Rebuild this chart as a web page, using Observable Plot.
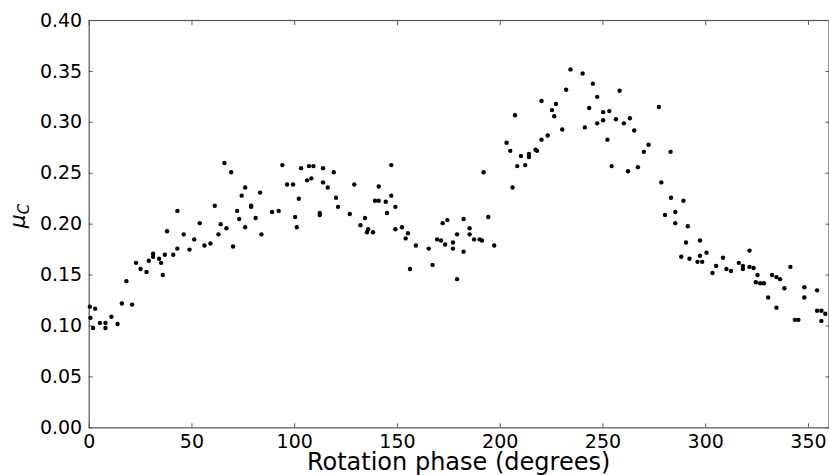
<!DOCTYPE html>
<html><head><meta charset="utf-8">
<script src="https://cdn.jsdelivr.net/npm/d3@7"></script>
<script src="https://cdn.jsdelivr.net/npm/@observablehq/plot@0.6"></script>
<style>body{margin:0;background:#fff} svg{display:block}</style>
</head><body><div id="chart"></div>
<script>
const phase = [0.3,0.6,1.9,2.9,5.2,7.9,7.9,10.8,13.8,15.9,18.1,20.9,22.8,25.0,27.9,29.0,31.1,31.1,34.0,35.0,35.8,36.8,37.9,40.9,42.9,42.9,46.0,48.8,51.1,53.8,56.1,59.0,61.1,62.9,64.0,65.8,66.8,69.1,70.0,72.0,73.0,74.2,75.9,75.9,78.8,78.8,81.0,83.2,83.8,89.0,92.2,94.0,96.3,99.2,100.2,101.0,102.0,103.1,106.0,107.0,108.1,109.1,112.2,112.2,113.8,113.8,116.1,119.0,120.1,121.1,126.8,129.0,132.0,134.2,135.2,135.8,138.1,139.1,140.9,140.9,144.3,144.9,147.0,147.0,149.0,149.0,152.2,154.0,155.1,156.1,159.0,165.2,167.1,169.3,171.2,172.0,173.2,174.3,177.0,177.0,179.0,179.0,182.2,182.2,185.1,185.1,187.3,190.0,191.1,191.9,194.2,197.1,203.1,204.9,206.0,207.2,208.3,210.1,212.2,214.0,214.0,217.2,217.9,220.1,220.1,223.1,225.2,226.3,227.1,230.2,232.1,234.2,240.1,241.2,243.3,245.1,247.2,247.2,250.1,250.1,252.2,253.1,254.2,256.3,258.1,260.2,262.2,263.1,265.2,267.0,269.9,272.2,277.2,278.4,280.2,282.9,283.1,285.2,285.2,288.1,289.2,290.4,291.3,292.1,296.0,297.2,297.2,298.3,300.4,303.3,305.1,308.4,310.1,312.3,316.1,318.1,318.1,321.3,321.3,323.3,324.4,325.2,326.5,328.3,330.4,332.3,334.4,334.4,336.2,338.3,341.2,343.4,345.1,348.0,348.0,354.2,354.2,356.3,356.3,358.2];
const mu = [0.119,0.108,0.098,0.117,0.103,0.103,0.098,0.109,0.102,0.122,0.144,0.121,0.162,0.156,0.153,0.164,0.168,0.171,0.166,0.162,0.150,0.170,0.193,0.170,0.176,0.213,0.190,0.175,0.185,0.201,0.179,0.181,0.218,0.190,0.200,0.260,0.196,0.251,0.178,0.213,0.205,0.228,0.236,0.197,0.218,0.217,0.206,0.231,0.190,0.212,0.213,0.258,0.239,0.239,0.207,0.197,0.225,0.255,0.243,0.257,0.245,0.257,0.211,0.209,0.255,0.241,0.236,0.251,0.226,0.217,0.210,0.239,0.199,0.206,0.192,0.195,0.192,0.223,0.223,0.237,0.222,0.211,0.258,0.228,0.217,0.195,0.197,0.186,0.191,0.156,0.179,0.176,0.160,0.185,0.184,0.201,0.180,0.204,0.182,0.176,0.146,0.190,0.205,0.173,0.196,0.190,0.185,0.185,0.184,0.251,0.207,0.179,0.280,0.272,0.236,0.307,0.257,0.267,0.258,0.269,0.266,0.273,0.272,0.321,0.283,0.287,0.312,0.306,0.318,0.293,0.332,0.352,0.348,0.295,0.314,0.338,0.325,0.299,0.310,0.302,0.283,0.311,0.257,0.303,0.331,0.299,0.252,0.304,0.292,0.256,0.271,0.278,0.315,0.241,0.209,0.271,0.226,0.212,0.201,0.168,0.223,0.182,0.198,0.166,0.163,0.184,0.169,0.163,0.172,0.152,0.159,0.167,0.156,0.154,0.162,0.159,0.156,0.174,0.158,0.157,0.143,0.150,0.142,0.142,0.128,0.150,0.148,0.118,0.146,0.137,0.158,0.106,0.106,0.138,0.128,0.135,0.115,0.115,0.105,0.112];
const xTicks = [0,50,100,150,200,250,300,350];
const yTicks = [0,0.05,0.10,0.15,0.20,0.25,0.30,0.35,0.40];
const xLabel = "Rotation phase (degrees)";
const yLabelMain = "μ";
const yLabelSub = "C";

const data = phase.map((p, i) => ({phase: p, mu: mu[i]}));
const W = 829, H = 475;
const axisColor = "#555";
const chart = Plot.plot({
  width: W, height: H,
  marginLeft: 88.7, marginRight: 0.5, marginTop: 20, marginBottom: 47.7,
  style: {fontFamily: "DejaVu Sans", fontSize: "19px", color: "#000", background: "#fff"},
  x: {domain: [0, 360]},
  y: {domain: [0, 0.4]},
  marks: [
    Plot.frame({stroke: axisColor, strokeWidth: 1.2}),
    Plot.axisX({anchor: "bottom", ticks: xTicks, tickSize: 0, tickPadding: 6.5, label: null, tickFormat: d => String(d), fill: "#000"}),
    Plot.axisX({anchor: "bottom", ticks: xTicks, tickSize: -4, label: null, tickFormat: () => "", stroke: axisColor}),
    Plot.axisX({anchor: "top", ticks: xTicks, tickSize: -4, label: null, tickFormat: () => "", stroke: axisColor}),
    Plot.axisY({anchor: "left", ticks: yTicks, tickSize: 0, tickPadding: 7, label: null, tickFormat: d3.format(".2f"), fill: "#000"}),
    Plot.axisY({anchor: "left", ticks: yTicks, tickSize: -4, label: null, tickFormat: () => "", stroke: axisColor}),
    Plot.axisY({anchor: "right", ticks: yTicks, tickSize: -4, label: null, tickFormat: () => "", stroke: axisColor}),
    Plot.dot(data, {x: "phase", y: "mu", r: 2.2, fill: "#000", stroke: "none"})
  ]
});
document.getElementById("chart").appendChild(chart);

const svg = d3.select(chart);
svg.append("text")
  .attr("x", (88.7 + W - 0.5) / 2)
  .attr("y", 470)
  .attr("text-anchor", "middle")
  .attr("font-family", "DejaVu Sans")
  .attr("font-size", 24)
  .attr("fill", "#000")
  .text(xLabel);

const yl = svg.append("text")
  .attr("transform", "translate(25,216) rotate(-90)")
  .attr("text-anchor", "middle")
  .attr("font-family", "DejaVu Sans")
  .attr("fill", "#000");
yl.append("tspan").attr("font-size", 22).attr("font-style", "italic").text(yLabelMain);
yl.append("tspan").attr("font-size", 15).attr("font-style", "italic").attr("dy", 4).text(yLabelSub);
</script>
</body></html>
